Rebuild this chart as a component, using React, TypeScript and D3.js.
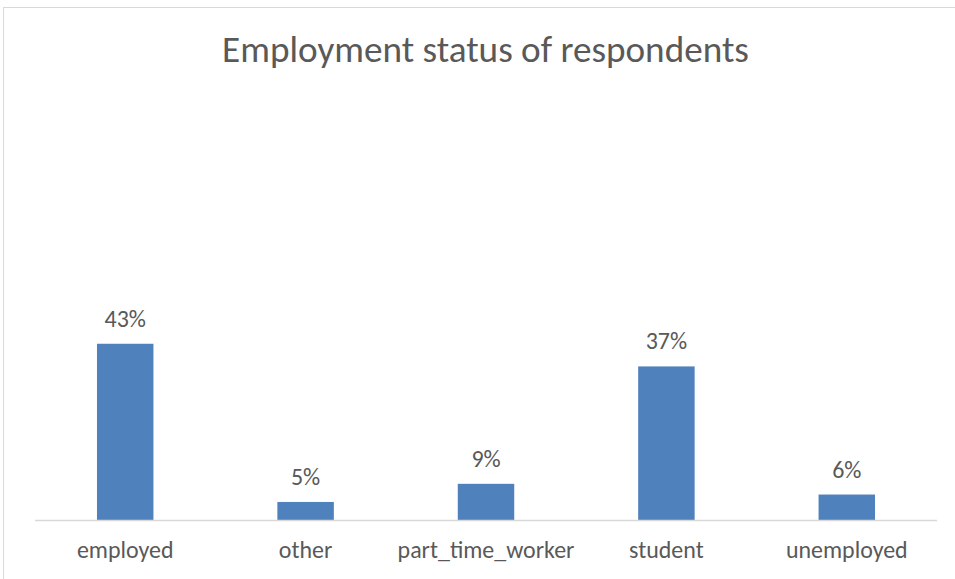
import React, { useEffect, useRef } from "react";
import * as d3 from "d3";

const categories = ["employed", "other", "part_time_worker", "student", "unemployed"];
const values = [0.429, 0.045, 0.089, 0.374, 0.063];
const valueLabels = ["43%", "5%", "9%", "37%", "6%"];
const title = "Employment status of respondents";

const W = 955;
const H = 579;
const FONT = "Carlito, Calibri, Lato, 'Open Sans', sans-serif";
const TEXT = "#595959";

export default function App() {
  const ref = useRef<SVGSVGElement>(null);

  const x = d3.scaleBand<string>().domain(categories).range([35, 937]).paddingInner(0.687).paddingOuter(0.3435);
  const y = d3.scaleLinear().domain([0, 0.5]).range([520.5, 314.5]);

  useEffect(() => {
    // fit text widths to reference measurements
    const svg = d3.select(ref.current);
    const fit = (sel: string, target: number) => {
      const node = svg.select<SVGTextElement>(sel).node();
      if (!node) return;
      const w = node.getComputedTextLength();
      const fs = parseFloat(node.getAttribute("font-size") || "16");
      const nfs = (fs * target) / w;
      svg.selectAll<SVGTextElement, unknown>(`.${node.getAttribute("data-group")}`).attr("font-size", nfs);
    };
    fit("#title", 527);
    fit("#cat-part_time_worker", 177);
  }, []);

  return (
    <svg
      ref={ref}
      width={W}
      height={H}
      style={{ position: "absolute", left: 0, top: 0, background: "#fff" }}
    >
      <rect x={3.5} y={7.5} width={W + 10} height={H + 10} fill="#fff" stroke="#D9D9D9" strokeWidth={1} />
      <text
        id="title"
        className="g-title"
        data-group="g-title"
        x={485.5}
        y={62}
        textAnchor="middle"
        fontFamily={FONT}
        fontWeight={300}
        fontSize={34}
        fill={TEXT}
      >
        {title}
      </text>
      {categories.map((c, i) => (
        <rect
          key={c}
          x={x(c)}
          y={y(values[i])}
          width={x.bandwidth()}
          height={y(0) - y(values[i])}
          fill="#4F81BD"
        />
      ))}
      <line x1={35} x2={937} y1={520.5} y2={520.5} stroke="#D9D9D9" strokeWidth={1.5} />
      {categories.map((c, i) => (
        <text
          key={"v" + c}
          className="g-lab"
          x={(x(c) as number) + x.bandwidth() / 2}
          y={y(values[i]) - 17}
          textAnchor="middle"
          fontFamily={FONT}
          fontSize={22}
          fill={TEXT}
        >
          {valueLabels[i]}
        </text>
      ))}
      {categories.map((c) => (
        <text
          key={"c" + c}
          id={"cat-" + c}
          className="g-lab"
          data-group="g-lab"
          x={(x(c) as number) + x.bandwidth() / 2}
          y={558}
          textAnchor="middle"
          fontFamily={FONT}
          fontSize={22}
          fill={TEXT}
        >
          {c}
        </text>
      ))}
    </svg>
  );
}
